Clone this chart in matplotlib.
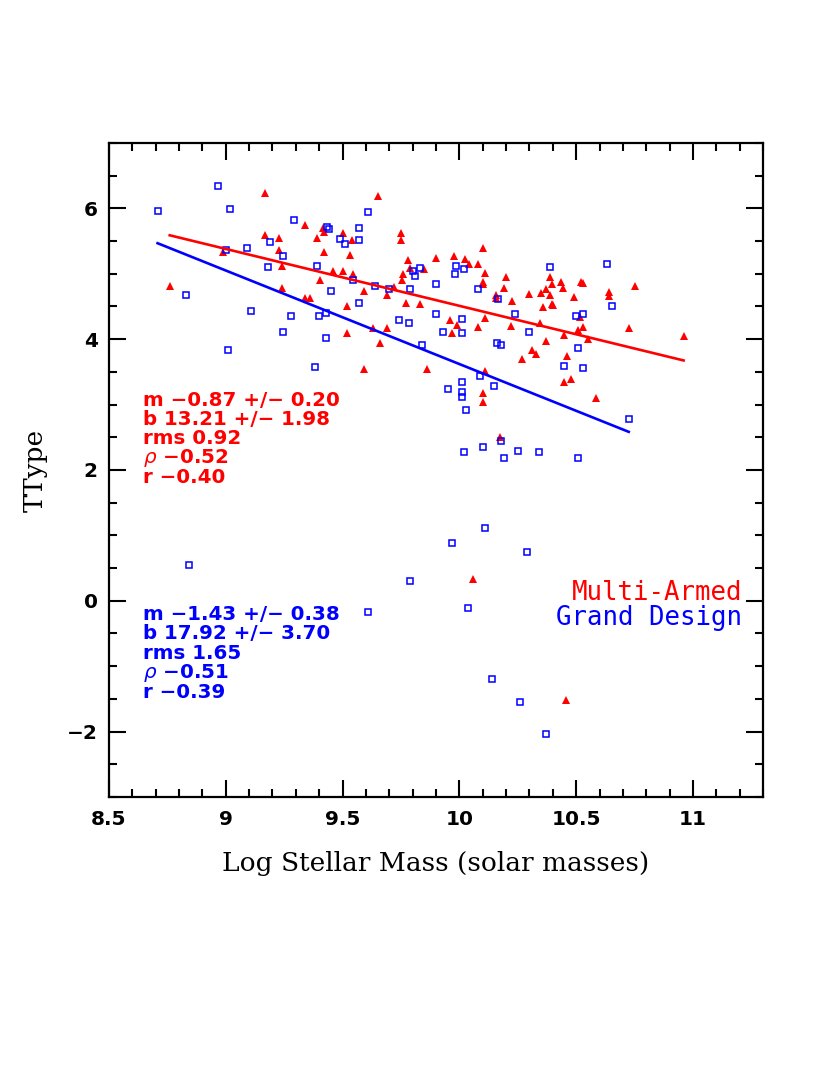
import matplotlib
matplotlib.use("Agg")
import matplotlib.pyplot as plt
from matplotlib.ticker import MultipleLocator
import numpy as np

# Multi-Armed galaxies (red triangles): log stellar mass, T-type
ma_mass = [9.17, 9.17, 9.23, 9.34, 9.415, 9.42, 9.39, 9.23, 8.99, 9.42,
           9.24, 8.76, 9.405, 9.24, 9.34, 9.36, 9.65, 9.50, 9.54, 9.75,
           9.75, 9.53, 9.78, 9.90, 9.975, 10.025, 10.04, 10.10, 10.08, 9.79,
           9.85, 9.46, 9.50, 9.545, 9.76, 9.755, 10.11, 10.10, 10.10, 10.20,
           10.19, 10.30, 9.59, 9.72, 9.69, 9.77, 9.83, 9.52, 10.155, 10.155,
           10.225, 9.96, 9.99, 9.97, 10.11, 10.08, 10.22, 9.63, 9.69, 9.52,
           9.66, 10.31, 10.33, 10.27, 9.59, 9.86, 10.11, 10.39, 10.395, 10.435,
           10.445, 10.52, 10.53, 10.37, 10.35, 10.39, 10.49, 10.36, 10.395, 10.40,
           10.64, 10.64, 10.75, 10.345, 10.515, 10.51, 10.53, 10.45, 10.55, 10.725,
           10.96, 10.37, 10.46, 10.45, 10.48, 10.585, 10.10, 10.10, 10.175, 10.06,
           10.455]
ma_ttype = [6.24, 5.59, 5.54, 5.75, 5.70, 5.64, 5.54, 5.37, 5.33, 5.33,
            5.12, 4.81, 4.90, 4.78, 4.63, 4.63, 6.19, 5.63, 5.51, 5.62,
            5.52, 5.28, 5.21, 5.24, 5.27, 5.22, 5.15, 5.40, 5.15, 5.09,
            5.07, 5.04, 5.05, 4.99, 4.99, 4.90, 5.01, 4.87, 4.84, 4.95,
            4.78, 4.69, 4.74, 4.80, 4.67, 4.56, 4.54, 4.51, 4.67, 4.63,
            4.59, 4.29, 4.21, 4.09, 4.32, 4.18, 4.20, 4.17, 4.17, 4.09,
            3.94, 3.84, 3.77, 3.69, 3.55, 3.55, 3.52, 4.95, 4.85, 4.88,
            4.78, 4.87, 4.86, 4.76, 4.70, 4.68, 4.64, 4.49, 4.54, 4.52,
            4.72, 4.66, 4.81, 4.25, 4.34, 4.14, 4.18, 4.06, 4.00, 4.17,
            4.05, 3.97, 3.74, 3.34, 3.39, 3.10, 3.17, 3.04, 2.50, 0.33,
            -1.52]

# Grand Design galaxies (blue open squares)
gd_mass = [8.968, 8.708, 9.02, 9.29, 9.435, 9.44, 9.19, 9.00, 9.09, 9.245,
           9.18, 9.39, 8.83, 9.107, 9.28, 9.40, 9.43, 9.245, 9.43, 9.01,
           9.38, 9.61, 9.57, 9.49, 9.57, 9.51, 9.985, 10.02, 9.98, 9.80,
           9.83, 9.81, 9.545, 9.64, 9.70, 9.79, 9.90, 10.08, 10.165, 9.45,
           9.57, 10.24, 9.90, 9.74, 9.785, 10.01, 9.93, 10.01, 10.30, 9.84,
           10.16, 10.18, 10.39, 10.63, 10.655, 10.50, 10.53, 10.51, 10.45, 10.53,
           10.725, 10.09, 10.01, 10.15, 9.95, 10.01, 10.01, 10.03, 10.18, 10.02,
           10.10, 10.19, 10.25, 10.34, 10.51, 8.844, 9.97, 10.11, 10.29, 9.79,
           9.61, 10.035, 10.14, 10.26, 10.37]
gd_ttype = [6.34, 5.96, 5.99, 5.82, 5.72, 5.69, 5.49, 5.37, 5.39, 5.27,
            5.10, 5.12, 4.68, 4.43, 4.35, 4.35, 4.40, 4.11, 4.02, 3.83,
            3.57, 5.94, 5.70, 5.53, 5.51, 5.46, 5.12, 5.08, 5.00, 5.05,
            5.09, 4.96, 4.90, 4.81, 4.77, 4.76, 4.84, 4.76, 4.61, 4.73,
            4.56, 4.38, 4.39, 4.29, 4.24, 4.31, 4.11, 4.10, 4.11, 3.91,
            3.94, 3.91, 5.10, 5.15, 4.51, 4.36, 4.39, 3.87, 3.59, 3.56,
            2.78, 3.44, 3.35, 3.28, 3.24, 3.20, 3.11, 2.92, 2.44, 2.27,
            2.35, 2.18, 2.29, 2.27, 2.18, 0.54, 0.88, 1.11, 0.75, 0.30,
            -0.17, -0.11, -1.20, -1.54, -2.03]

# fit results printed on the plot
ma_stats = ["m \u22120.87 +/\u2212 0.20", "b 13.21 +/\u2212 1.98", "rms 0.92",
            "$\\rho$ \u22120.52", "r \u22120.40"]
gd_stats = ["m \u22121.43 +/\u2212 0.38", "b 17.92 +/\u2212 3.70", "rms 1.65",
            "$\\rho$ \u22120.51", "r \u22120.39"]
ma_fit = (-0.87, 13.21)
gd_fit = (-1.43, 17.92)

xtick_vals = [8.5, 9, 9.5, 10, 10.5, 11]
xtick_labels = ["8.5", "9", "9.5", "10", "10.5", "11"]
ytick_vals = [-2, 0, 2, 4, 6]
ytick_labels = ["\u22122", "0", "2", "4", "6"]

RED = "#ff0000"
BLUE = "#0000ff"

fig = plt.figure(figsize=(8.3, 10.75), dpi=100)
ax = fig.add_axes([0.1313, 0.2586, 0.788, 0.6084])

ax.plot(ma_mass, ma_ttype, linestyle="none", marker="^", markersize=5.5,
        color=RED, markeredgewidth=0)
ax.plot(gd_mass, gd_ttype, linestyle="none", marker="s", markersize=4.8,
        markerfacecolor="none", markeredgecolor=BLUE, markeredgewidth=1.1)

# fit lines over the range of each sample
for mass, (m, b), col in [(ma_mass, ma_fit, RED), (gd_mass, gd_fit, BLUE)]:
    xx = np.array([min(mass), max(mass)])
    ax.plot(xx, m * xx + b, color=col, linewidth=1.9)

ax.set_xlim(8.5, 11.3)
ax.set_ylim(-3, 7)

ax.xaxis.set_minor_locator(MultipleLocator(0.1))
ax.yaxis.set_minor_locator(MultipleLocator(0.5))
ax.tick_params(which="both", direction="in", top=True, right=True, width=1.5)
ax.tick_params(which="major", length=12)
ax.tick_params(which="minor", length=6)
ax.tick_params(axis="x", pad=9)
ax.tick_params(axis="y", pad=8)
for s in ax.spines.values():
    s.set_linewidth(1.6)

ax.set_xticks(xtick_vals)
ax.set_xticklabels(xtick_labels)
ax.set_yticks(ytick_vals)
ax.set_yticklabels(ytick_labels)
for lab in ax.get_xticklabels() + ax.get_yticklabels():
    lab.set_family("DejaVu Sans")
    lab.set_fontweight("bold")
    lab.set_fontsize(14.5)

ax.set_xlabel("Log Stellar Mass (solar masses)", family="DejaVu Serif",
              fontsize=19, labelpad=16)
ax.set_ylabel("TType", family="DejaVu Serif", fontsize=19, labelpad=14)

for i, line in enumerate(ma_stats):
    ax.text(8.645, 3.07 - 0.297 * i, line, color=RED, fontsize=14.3,
            fontweight="bold", va="center", ha="left", family="DejaVu Sans")
for i, line in enumerate(gd_stats):
    ax.text(8.645, -0.21 - 0.297 * i, line, color=BLUE, fontsize=14.3,
            fontweight="bold", va="center", ha="left", family="DejaVu Sans")

ax.text(11.21, 0.12, "Multi-Armed", color=RED, family="DejaVu Sans Mono",
        fontsize=18.5, ha="right", va="center")
ax.text(11.21, -0.27, "Grand Design", color=BLUE, family="DejaVu Sans Mono",
        fontsize=18.5, ha="right", va="center")

fig.savefig("out.png", dpi=100)
